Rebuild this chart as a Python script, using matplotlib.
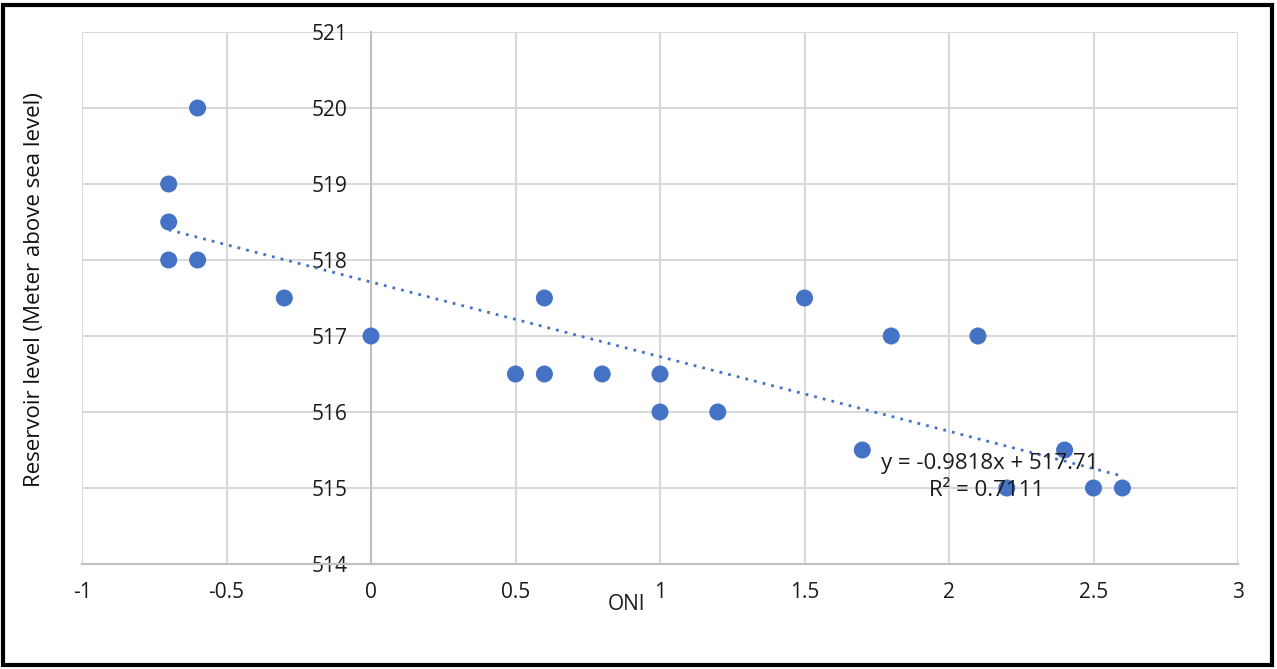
import matplotlib.pyplot as plt
from matplotlib.patches import Rectangle

# ONI vs reservoir level
oni = [-0.6, -0.7, -0.7, -0.7, -0.6, -0.3, 0.0, 0.5, 0.6, 0.6, 0.8,
       1.0, 1.0, 1.2, 1.5, 1.7, 1.8, 2.1, 2.2, 2.4, 2.5, 2.6]
level = [520, 519, 518.5, 518, 518, 517.5, 517, 516.5, 516.5, 517.5, 516.5,
         516.5, 516, 516, 517.5, 515.5, 517, 517, 515, 515.5, 515, 515]
slope = -0.9818
intercept = 517.71
r2 = 0.7111
xticks = [-1, -0.5, 0, 0.5, 1, 1.5, 2, 2.5, 3]
yticks = [514, 515, 516, 517, 518, 519, 520, 521]

plt.rcParams['font.family'] = ['Open Sans', 'DejaVu Sans']
blue = '#4472C4'

fig = plt.figure(figsize=(12.77, 6.69), dpi=100)
ax = fig.add_axes([82/1277, 1-564/669, (1238-82)/1277, (564-32)/669])

ax.scatter(oni, level, s=150, color=blue, zorder=3, edgecolors='none')

# linear trendline over the data range
x0, x1 = min(oni), max(oni)
ax.plot([x0, x1], [slope*x0 + intercept, slope*x1 + intercept],
        color=blue, lw=2, linestyle=(0, (1, 2.2)), zorder=2)

ax.set_xlim(-1, 3)
ax.set_ylim(514, 521)
ax.set_xticks(xticks)
ax.set_xticklabels([f'{t:g}' for t in xticks])
ax.set_yticks(yticks)

ax.grid(True, color='#D9D9D9', lw=1.5)
ax.set_axisbelow(True)
for s in ['top', 'right']:
    ax.spines[s].set_visible(False)
ax.spines['left'].set_position(('data', 0))
ax.spines['left'].set_color('#BFBFBF')
ax.spines['left'].set_linewidth(1.5)
ax.spines['left'].set_zorder(1)
ax.spines['bottom'].set_color('#BFBFBF')
ax.spines['bottom'].set_linewidth(1.5)
ax.tick_params(axis='y', length=0, pad=17, labelsize=15, labelcolor='#1a1a1a')
ax.tick_params(axis='x', length=0, pad=13, labelsize=15, labelcolor='#1a1a1a')

fig.text(627/1277, 1-605/669, 'ONI', ha='center', va='center', fontsize=15, color='#1a1a1a')
fig.text(35/1277, 1-290/669, 'Reservoir level (Meter above sea level)', rotation=90,
         ha='center', va='center', fontsize=16, color='#111111')

fig.text(990/1277, 1-464/669, f'y = {slope}x + {intercept}', ha='center', va='center',
         fontsize=16, color='#1a1a1a')
fig.text(987/1277, 1-490/669, f'R² = {r2}', ha='center', va='center',
         fontsize=16, color='#1a1a1a')

fig.patches.append(Rectangle((3/1277, 4/669), 1-8/1277, 1-9/669, transform=fig.transFigure,
                             fill=False, lw=3, edgecolor='black'))

fig.savefig('out.png', dpi=100)
